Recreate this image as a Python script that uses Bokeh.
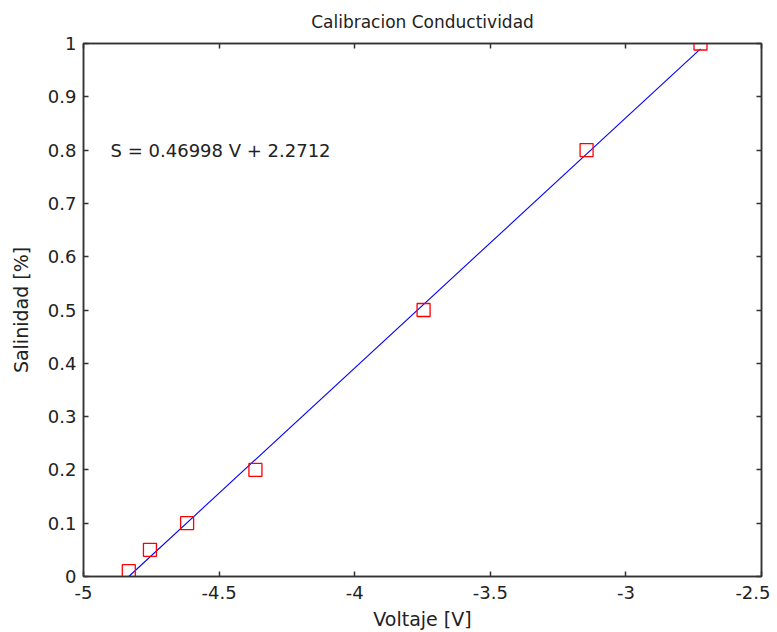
from bokeh.plotting import figure
from bokeh.models import Range1d, LinearAxis, FixedTicker, Label
from bokeh.embed import file_html
from bokeh.resources import INLINE

# data
voltaje = [-4.833, -4.755, -4.618, -4.366, -3.746, -3.145, -2.725]
salinidad = [0.01, 0.05, 0.10, 0.20, 0.50, 0.80, 1.00]
fit_x = [-4.833, -2.725]
fit_y = [0.0, 0.99]
x_ticks = [-5, -4.5, -4, -3.5, -3, -2.5]
y_ticks = [0, 0.1, 0.2, 0.3, 0.4, 0.5, 0.6, 0.7, 0.8, 0.9, 1]
x_tick_labels = {-5: "-5", -4.5: "-4.5", -4: "-4", -3.5: "-3.5", -3: "-3", -2.5: "-2.5"}
y_tick_labels = {0: "0", 0.1: "0.1", 0.2: "0.2", 0.3: "0.3", 0.4: "0.4", 0.5: "0.5",
                 0.6: "0.6", 0.7: "0.7", 0.8: "0.8", 0.9: "0.9", 1: "1"}
equation = "S = 0.46998 V + 2.2712"

FONT = "DejaVu Sans"
TXT = "#222222"
AX = "#333333"

p = figure(width=770, height=624, output_backend="svg", toolbar_location=None,
           x_range=Range1d(-5, -2.5), y_range=Range1d(0, 1),
           min_border_left=83, min_border_right=9, min_border_top=43, min_border_bottom=48)
p.frame_width = 678
p.frame_height = 533

p.title.text = "Calibracion Conductividad"
p.title.align = "center"
p.title.vertical_align = "top"
p.title.text_font = FONT
p.title.text_font_size = "17px"
p.title.text_font_style = "normal"
p.title.text_color = TXT
p.title.standoff = 20

p.grid.visible = False
p.outline_line_color = AX
p.outline_line_width = 1.5

def style(ax, labels=True):
    ax.major_tick_in = 5
    ax.major_tick_out = 0
    ax.minor_tick_line_color = None
    ax.axis_line_color = AX
    ax.axis_line_width = 1.5
    ax.major_tick_line_color = AX
    ax.major_tick_line_width = 1.5
    ax.major_label_text_font = FONT
    ax.major_label_text_font_size = "18px"
    ax.major_label_text_color = TXT
    ax.axis_label_text_font = FONT
    ax.axis_label_text_font_size = "19px"
    ax.axis_label_text_font_style = "normal"
    ax.axis_label_text_color = TXT

xb = p.xaxis[0]
xb.ticker = FixedTicker(ticks=x_ticks)
xb.major_label_overrides = x_tick_labels
xb.axis_label = "Voltaje [V]"
style(xb)
xb.major_label_standoff = 9
xb.axis_label_standoff = 6

yl = p.yaxis[0]
yl.ticker = FixedTicker(ticks=y_ticks)
yl.major_label_overrides = y_tick_labels
yl.axis_label = "Salinidad [%]"
style(yl)
yl.major_label_standoff = 7
yl.axis_label_standoff = 13

xt = LinearAxis(ticker=FixedTicker(ticks=x_ticks),
                major_label_overrides={t: "" for t in x_ticks})
style(xt, labels=False)
xt.major_label_standoff = 0
p.add_layout(xt, "above")

yr = LinearAxis(ticker=FixedTicker(ticks=y_ticks),
                major_label_overrides={t: "" for t in y_ticks})
style(yr, labels=False)
yr.major_label_standoff = 0
p.add_layout(yr, "right")

p.line(fit_x, fit_y, line_color="#0000ff", line_width=1.1)
p.scatter(voltaje, salinidad, marker="square", size=13, fill_color=None,
          line_color="#ff0000", line_width=1.3)

p.add_layout(Label(x=-4.9, y=0.8, text=equation, text_font=FONT, text_font_size="18px",
                   text_color=TXT, text_baseline="middle", text_align="left"))

open("out.html", "w").write(file_html(p, INLINE))
